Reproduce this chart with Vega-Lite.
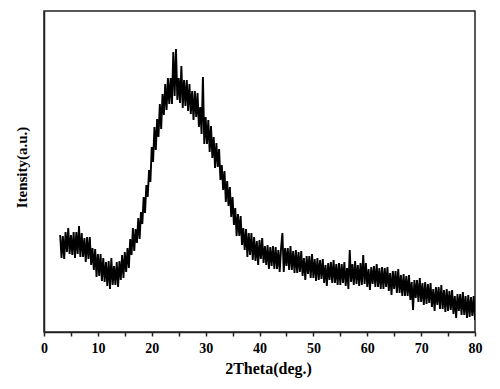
{
  "$schema": "https://vega.github.io/schema/vega-lite/v6.json",
  "width": 431,
  "height": 321,
  "autosize": {"type": "none"},
  "padding": {"left": 44, "top": 11, "right": 25, "bottom": 57},
  "background": "white",
  "config": {
    "view": {"stroke": "#222", "strokeWidth": 1.5},
    "font": "Liberation Serif",
    "axis": {"grid": false, "domainColor": "#222", "domainWidth": 1.5, "tickColor": "#222", "labelFont": "Liberation Serif", "titleFont": "Liberation Serif", "labelFontWeight": "bold", "titleFontWeight": "bold", "labelColor": "black", "titleColor": "black"}
  },
  "data": {"values": [
    {"x":3,"y":97},{"x":3.25,"y":74},{"x":3.5,"y":96},{"x":3.75,"y":73},
    {"x":4,"y":100},{"x":4.25,"y":80},{"x":4.5,"y":104},{"x":4.75,"y":78},
    {"x":5,"y":97},{"x":5.25,"y":77},{"x":5.5,"y":100},{"x":5.75,"y":74},
    {"x":6,"y":100},{"x":6.25,"y":78},{"x":6.5,"y":106},{"x":6.75,"y":75},
    {"x":7,"y":99},{"x":7.25,"y":75},{"x":7.5,"y":94},{"x":7.75,"y":70},
    {"x":8,"y":95},{"x":8.25,"y":73},{"x":8.5,"y":95},{"x":8.75,"y":67},
    {"x":9,"y":84},{"x":9.25,"y":62},{"x":9.5,"y":83},{"x":9.75,"y":55},
    {"x":10,"y":78},{"x":10.25,"y":56},{"x":10.5,"y":78},{"x":10.75,"y":51},
    {"x":11,"y":74},{"x":11.25,"y":50},{"x":11.5,"y":70},{"x":11.75,"y":46},
    {"x":12,"y":71},{"x":12.25,"y":43},{"x":12.5,"y":74},{"x":12.75,"y":47},
    {"x":13,"y":66},{"x":13.25,"y":47},{"x":13.5,"y":70},{"x":13.75,"y":45},
    {"x":14,"y":71},{"x":14.25,"y":52},{"x":14.5,"y":77},{"x":14.75,"y":54},
    {"x":15,"y":80},{"x":15.25,"y":60},{"x":15.5,"y":84},{"x":15.75,"y":64},
    {"x":16,"y":93},{"x":16.25,"y":77},{"x":16.5,"y":104},{"x":16.75,"y":81},
    {"x":17,"y":103},{"x":17.25,"y":89},{"x":17.5,"y":114},{"x":17.75,"y":93},
    {"x":18,"y":120},{"x":18.25,"y":108},{"x":18.5,"y":135},{"x":18.75,"y":119},
    {"x":19,"y":147},{"x":19.25,"y":135},{"x":19.5,"y":162},{"x":19.75,"y":150},
    {"x":20,"y":185},{"x":20.25,"y":170},{"x":20.5,"y":205},{"x":20.75,"y":182},
    {"x":21,"y":213},{"x":21.25,"y":195},{"x":21.5,"y":228},{"x":21.75,"y":203},
    {"x":22,"y":238},{"x":22.25,"y":217},{"x":22.5,"y":248},{"x":22.75,"y":222},
    {"x":23,"y":254},{"x":23.25,"y":228},{"x":23.5,"y":254},{"x":23.75,"y":228},
    {"x":24,"y":280},{"x":24.25,"y":236},{"x":24.5,"y":283},{"x":24.75,"y":232},
    {"x":25,"y":254},{"x":25.25,"y":229},{"x":25.5,"y":266},{"x":25.75,"y":224},
    {"x":26,"y":252},{"x":26.25,"y":226},{"x":26.5,"y":252},{"x":26.75,"y":221},
    {"x":27,"y":248},{"x":27.25,"y":218},{"x":27.5,"y":241},{"x":27.75,"y":212},
    {"x":28,"y":241},{"x":28.25,"y":215},{"x":28.5,"y":239},{"x":28.75,"y":205},
    {"x":29,"y":225},{"x":29.25,"y":198},{"x":29.5,"y":255},{"x":29.75,"y":188},
    {"x":30,"y":215},{"x":30.25,"y":188},{"x":30.5,"y":212},{"x":30.75,"y":180},
    {"x":31,"y":206},{"x":31.25,"y":174},{"x":31.5,"y":195},{"x":31.75,"y":164},
    {"x":32,"y":189},{"x":32.25,"y":165},{"x":32.5,"y":183},{"x":32.75,"y":152},
    {"x":33,"y":167},{"x":33.25,"y":142},{"x":33.5,"y":161},{"x":33.75,"y":130},
    {"x":34,"y":151},{"x":34.25,"y":126},{"x":34.5,"y":145},{"x":34.75,"y":115},
    {"x":35,"y":135},{"x":35.25,"y":107},{"x":35.5,"y":124},{"x":35.75,"y":96},
    {"x":36,"y":118},{"x":36.25,"y":96},{"x":36.5,"y":116},{"x":36.75,"y":87},
    {"x":37,"y":104},{"x":37.25,"y":82},{"x":37.5,"y":103},{"x":37.75,"y":75},
    {"x":38,"y":99},{"x":38.25,"y":77},{"x":38.5,"y":99},{"x":38.75,"y":72},
    {"x":39,"y":95},{"x":39.25,"y":71},{"x":39.5,"y":91},{"x":39.75,"y":67},
    {"x":40,"y":92},{"x":40.25,"y":73},{"x":40.5,"y":94},{"x":40.75,"y":69},
    {"x":41,"y":86},{"x":41.25,"y":67},{"x":41.5,"y":87},{"x":41.75,"y":63},
    {"x":42,"y":85},{"x":42.25,"y":66},{"x":42.5,"y":86},{"x":42.75,"y":63},
    {"x":43,"y":85},{"x":43.25,"y":63},{"x":43.5,"y":82},{"x":43.75,"y":60},
    {"x":44,"y":84},{"x":44.25,"y":99},{"x":44.5,"y":60},{"x":44.75,"y":84},
    {"x":45,"y":66},{"x":45.25,"y":84},{"x":45.5,"y":62},{"x":45.75,"y":86},
    {"x":46,"y":62},{"x":46.25,"y":81},{"x":46.5,"y":59},{"x":46.75,"y":82},
    {"x":47,"y":59},{"x":47.25,"y":80},{"x":47.5,"y":60},{"x":47.75,"y":81},
    {"x":48,"y":56},{"x":48.25,"y":74},{"x":48.5,"y":52},{"x":48.75,"y":76},
    {"x":49,"y":58},{"x":49.25,"y":76},{"x":49.5,"y":54},{"x":49.75,"y":78},
    {"x":50,"y":54},{"x":50.25,"y":73},{"x":50.5,"y":51},{"x":50.75,"y":74},
    {"x":51,"y":52},{"x":51.25,"y":72},{"x":51.5,"y":53},{"x":51.75,"y":73},
    {"x":52,"y":49},{"x":52.25,"y":67},{"x":52.5,"y":46},{"x":52.75,"y":69},
    {"x":53,"y":52},{"x":53.25,"y":70},{"x":53.5,"y":49},{"x":53.75,"y":72},
    {"x":54,"y":49},{"x":54.25,"y":68},{"x":54.5,"y":47},{"x":54.75,"y":69},
    {"x":55,"y":47},{"x":55.25,"y":68},{"x":55.5,"y":49},{"x":55.75,"y":70},
    {"x":56,"y":46},{"x":56.25,"y":64},{"x":56.5,"y":43},{"x":56.75,"y":82},
    {"x":57,"y":50},{"x":57.25,"y":68},{"x":57.5,"y":47},{"x":57.75,"y":71},
    {"x":58,"y":48},{"x":58.25,"y":67},{"x":58.5,"y":46},{"x":58.75,"y":69},
    {"x":59,"y":47},{"x":59.25,"y":77},{"x":59.5,"y":48},{"x":59.75,"y":69},
    {"x":60,"y":45},{"x":60.25,"y":63},{"x":60.5,"y":42},{"x":60.75,"y":65},
    {"x":61,"y":48},{"x":61.25,"y":66},{"x":61.5,"y":45},{"x":61.75,"y":68},
    {"x":62,"y":45},{"x":62.25,"y":64},{"x":62.5,"y":43},{"x":62.75,"y":65},
    {"x":63,"y":43},{"x":63.25,"y":64},{"x":63.5,"y":45},{"x":63.75,"y":65},
    {"x":64,"y":41},{"x":64.25,"y":59},{"x":64.5,"y":37},{"x":64.75,"y":61},
    {"x":65,"y":43},{"x":65.25,"y":61},{"x":65.5,"y":39},{"x":65.75,"y":63},
    {"x":66,"y":39},{"x":66.25,"y":57},{"x":66.5,"y":36},{"x":66.75,"y":58},
    {"x":67,"y":36},{"x":67.25,"y":56},{"x":67.5,"y":36},{"x":67.75,"y":57},
    {"x":68,"y":32},{"x":68.25,"y":50},{"x":68.5,"y":22},{"x":68.75,"y":52},
    {"x":69,"y":34},{"x":69.25,"y":52},{"x":69.5,"y":30},{"x":69.75,"y":54},
    {"x":70,"y":30},{"x":70.25,"y":49},{"x":70.5,"y":27},{"x":70.75,"y":50},
    {"x":71,"y":28},{"x":71.25,"y":48},{"x":71.5,"y":29},{"x":71.75,"y":49},
    {"x":72,"y":25},{"x":72.25,"y":43},{"x":72.5,"y":21},{"x":72.75,"y":45},
    {"x":73,"y":27},{"x":73.25,"y":45},{"x":73.5,"y":23},{"x":73.75,"y":47},
    {"x":74,"y":23},{"x":74.25,"y":42},{"x":74.5,"y":20},{"x":74.75,"y":43},
    {"x":75,"y":21},{"x":75.25,"y":41},{"x":75.5,"y":22},{"x":75.75,"y":42},
    {"x":76,"y":18},{"x":76.25,"y":36},{"x":76.5,"y":14},{"x":76.75,"y":38},
    {"x":77,"y":21},{"x":77.25,"y":38},{"x":77.5,"y":17},{"x":77.75,"y":40},
    {"x":78,"y":17},{"x":78.25,"y":36},{"x":78.5,"y":14},{"x":78.75,"y":37},
    {"x":79,"y":15},{"x":79.25,"y":35},{"x":79.5,"y":16},{"x":79.75,"y":36},
    {"x":80,"y":12}
  ]},
  "mark": {"type": "line", "color": "black", "strokeWidth": 1.9, "clip": true},
  "encoding": {
    "x": {
      "field": "x", "type": "quantitative",
      "scale": {"domain": [0, 80], "nice": false, "zero": false},
      "axis": {
        "title": "2Theta(deg.)",
        "values": [0, 5, 10, 15, 20, 25, 30, 35, 40, 45, 50, 55, 60, 65, 70, 75, 80],
        "labelExpr": "datum.value % 10 === 0 ? datum.label : ''",
        "labelFontSize": 14,
        "titleFontSize": 16,
        "tickSize": 4,
        "tickWidth": 1.5,
        "labelPadding": 5,
        "titlePadding": 5,
        "titleX": 224,
        "labelFlush": false,
        "labelOverlap": false
      }
    },
    "y": {
      "field": "y", "type": "quantitative",
      "scale": {"domain": [0, 321], "nice": false},
      "axis": {
        "title": "Itensity(a.u.)",
        "labels": false,
        "ticks": false,
        "titleFontSize": 15,
        "titlePadding": 15,
        "titleY": 156
      }
    }
  }
}
